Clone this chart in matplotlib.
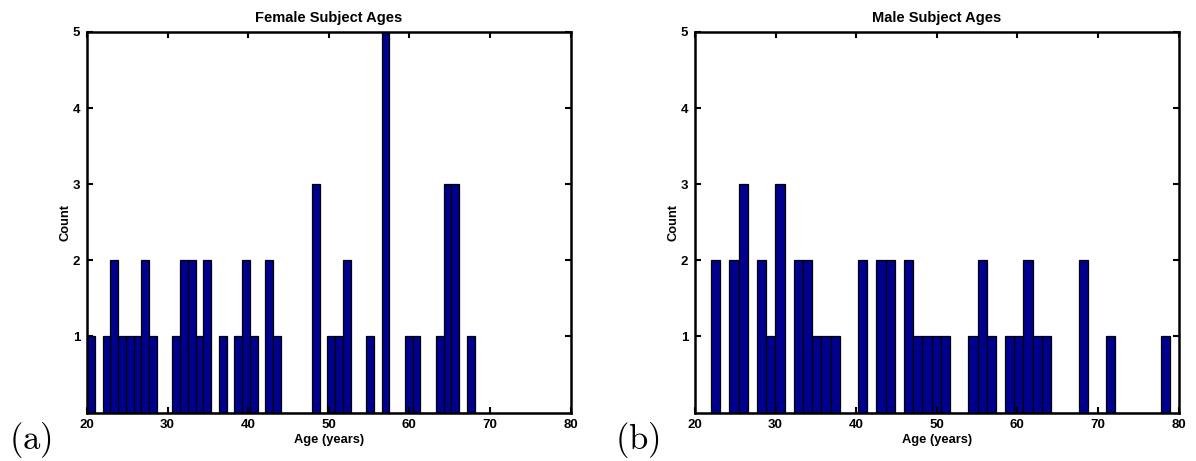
import numpy as np
import matplotlib
matplotlib.use("Agg")
import matplotlib.pyplot as plt

# Histogram bin counts (50 bins each)
female_range = (20.0, 68.1)
female_counts = [1, 0, 1, 2, 1, 1, 1, 2, 1, 0,
                 0, 1, 2, 2, 1, 2, 0, 1, 0, 1,
                 2, 1, 0, 2, 1, 0, 0, 0, 0, 3,
                 0, 1, 1, 2, 0, 0, 1, 0, 5, 0,
                 0, 1, 1, 0, 0, 1, 3, 3, 0, 1]
male_range = (22.0, 79.0)
male_counts = [2, 0, 2, 3, 0, 2, 1, 3, 0, 2,
               2, 1, 1, 1, 0, 0, 2, 0, 2, 2,
               0, 2, 1, 1, 1, 1, 0, 0, 1, 2,
               1, 0, 1, 1, 2, 1, 1, 0, 0, 0,
               2, 0, 0, 1, 0, 0, 0, 0, 0, 1]
titles = ["Female Subject Ages", "Male Subject Ages"]
panel_labels = ["(a)", "(b)"]
x_ticks = [20, 30, 40, 50, 60, 70, 80]
y_ticks = [1, 2, 3, 4, 5]

plt.rcParams['font.family'] = ['Liberation Sans', 'DejaVu Sans']
plt.rcParams['mathtext.fontset'] = 'cm'

fig = plt.figure(figsize=(11.96, 4.61), dpi=100)
W, H = 1196, 461
positions = [(87, 32, 570.5, 412.5), (695, 32, 1178.5, 412.5)]
label_pos = [(30, 440), (637, 440)]

for i, (counts, rng) in enumerate([(female_counts, female_range), (male_counts, male_range)]):
    x0, y0, x1, y1 = positions[i]
    ax = fig.add_axes([x0 / W, 1 - y1 / H, (x1 - x0) / W, (y1 - y0) / H])
    edges = np.linspace(rng[0], rng[1], len(counts) + 1)
    centers = (edges[:-1] + edges[1:]) / 2
    ax.hist(centers, bins=edges, weights=counts, color='#00008F',
            edgecolor='black', linewidth=0.9)
    ax.set_xlim(20, 80)
    ax.set_ylim(0, 5)
    ax.set_xticks(x_ticks)
    ax.set_yticks(y_ticks)
    ax.tick_params(direction='in', top=True, right=True, length=4, width=1.5,
                   labelsize=9.5, pad=5)
    for lab in ax.get_xticklabels() + ax.get_yticklabels():
        lab.set_fontweight('bold')
    for s in ax.spines.values():
        s.set_linewidth(1.8)
    ax.set_title(titles[i], fontsize=10.5, fontweight='bold', pad=7)
    ax.set_xlabel("Age (years)", fontsize=9.3, fontweight='bold', labelpad=2)
    ax.set_ylabel("Count", fontsize=9.3, fontweight='bold', labelpad=1)
    lx, ly = label_pos[i]
    fig.text(lx / W, 1 - ly / H, r'$\mathrm{' + panel_labels[i] + '}$',
             fontsize=25, ha='center', va='center')

fig.savefig("out.png", dpi=100)
